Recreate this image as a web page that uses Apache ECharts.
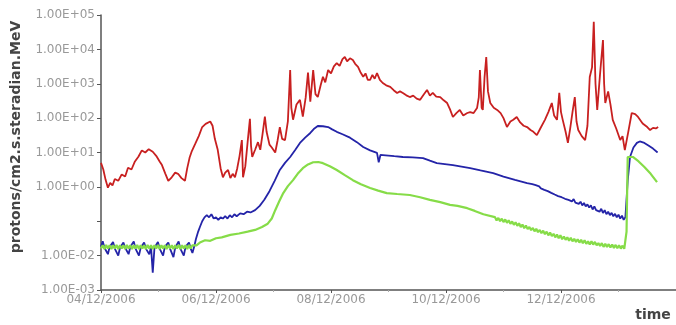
<!DOCTYPE html>
<html>
<head>
<meta charset="utf-8">
<title>Proton flux</title>
<script src="https://cdn.jsdelivr.net/npm/echarts@6/dist/echarts.min.js"></script>
<style>
  html, body { margin: 0; padding: 0; background: #fff; }
  #chart { width: 676px; height: 325px; }
</style>
</head>
<body>
<div id="chart"></div>
<script>
// [day of December 2006, flux]
const redPoints = [
  [4.00, 5.0], [4.04, 3.2], [4.08, 1.6], [4.12, 0.95], [4.16, 1.3], [4.20, 1.1], [4.24, 1.7],
  [4.30, 1.5], [4.36, 2.3], [4.42, 2.0], [4.47, 3.6], [4.53, 3.2], [4.59, 5.5], [4.65, 7.5],
  [4.71, 11.5], [4.77, 10.0], [4.83, 12.5], [4.90, 10.5], [4.96, 8.0], [5.02, 5.5], [5.06, 4.3],
  [5.12, 2.4], [5.17, 1.5], [5.23, 1.9], [5.29, 2.6], [5.34, 2.4], [5.40, 1.8], [5.46, 1.5],
  [5.50, 3.5], [5.54, 7.0], [5.58, 11], [5.64, 18], [5.70, 30], [5.76, 55], [5.82, 68],
  [5.90, 80], [5.94, 60], [5.98, 25], [6.03, 12], [6.08, 3.5], [6.12, 1.9], [6.16, 2.6],
  [6.21, 3.1], [6.25, 1.8], [6.29, 2.4], [6.33, 1.9], [6.37, 3.5], [6.41, 8], [6.45, 23],
  [6.47, 1.9], [6.51, 4], [6.55, 20], [6.59, 95], [6.61, 15], [6.63, 7.5], [6.68, 12],
  [6.73, 20], [6.77, 12], [6.81, 35], [6.85, 110], [6.88, 40], [6.93, 17], [6.97, 14],
  [7.03, 10], [7.07, 22], [7.11, 55], [7.15, 25], [7.20, 23], [7.25, 80], [7.29, 2500],
  [7.31, 200], [7.34, 90], [7.40, 250], [7.46, 340], [7.51, 110], [7.56, 400], [7.60, 2100],
  [7.64, 300], [7.67, 280], [7.69, 2500], [7.73, 500], [7.77, 410], [7.82, 900], [7.86, 1600],
  [7.90, 1100], [7.95, 2500], [8.00, 2000], [8.05, 3200], [8.10, 4000], [8.15, 3300],
  [8.20, 5200], [8.24, 6000], [8.28, 4500], [8.33, 5500], [8.38, 4900], [8.42, 3800],
  [8.47, 3100], [8.51, 2200], [8.56, 1600], [8.60, 2000], [8.64, 1300], [8.68, 1300],
  [8.72, 1800], [8.76, 1400], [8.80, 2050], [8.85, 1300], [8.90, 1050], [8.96, 900],
  [9.03, 810], [9.09, 650], [9.15, 540], [9.20, 600], [9.25, 540], [9.31, 460], [9.37, 410],
  [9.43, 450], [9.49, 370], [9.55, 340], [9.61, 480], [9.67, 660], [9.72, 450], [9.77, 540],
  [9.83, 420], [9.90, 410], [9.96, 330], [10.02, 275], [10.07, 180], [10.12, 108],
  [10.18, 140], [10.24, 173], [10.30, 120], [10.37, 141], [10.42, 150], [10.48, 140],
  [10.54, 196], [10.57, 400], [10.59, 2500], [10.62, 200], [10.64, 173], [10.67, 1500],
  [10.70, 6000], [10.73, 600], [10.77, 275], [10.83, 200], [10.89, 173], [10.95, 140],
  [11.00, 100], [11.06, 55], [11.12, 80], [11.17, 90], [11.23, 108], [11.29, 75], [11.35, 60],
  [11.41, 55], [11.47, 45], [11.52, 40], [11.58, 32], [11.64, 50], [11.72, 89], [11.78, 150],
  [11.84, 275], [11.88, 120], [11.93, 89], [11.97, 540], [12.00, 150], [12.03, 89],
  [12.08, 40], [12.12, 19], [12.16, 50], [12.20, 150], [12.24, 410], [12.27, 80], [12.30, 45],
  [12.36, 30], [12.42, 23], [12.46, 60], [12.50, 1580], [12.54, 3000], [12.57, 63000],
  [12.60, 1000], [12.63, 173], [12.68, 2000], [12.73, 18700], [12.75, 1000], [12.77, 275],
  [12.82, 600], [12.86, 250], [12.90, 89], [12.96, 50], [13.03, 23], [13.07, 30], [13.11, 11.7],
  [13.17, 40], [13.23, 141], [13.29, 130], [13.34, 108], [13.42, 70], [13.50, 55], [13.55, 45],
  [13.60, 52], [13.65, 50], [13.69, 55]
];

const bluePoints = [
  [4.00, 0.018], [4.03, 0.026], [4.06, 0.017], [4.09, 0.016], [4.12, 0.011], [4.15, 0.018],
  [4.18, 0.017], [4.21, 0.025], [4.24, 0.016], [4.27, 0.018], [4.30, 0.010], [4.33, 0.017],
  [4.36, 0.018], [4.39, 0.024], [4.42, 0.017], [4.45, 0.016], [4.48, 0.011], [4.51, 0.018],
  [4.54, 0.017], [4.57, 0.026], [4.60, 0.016], [4.63, 0.018], [4.66, 0.010], [4.69, 0.017],
  [4.72, 0.018], [4.75, 0.024], [4.78, 0.016], [4.81, 0.017], [4.84, 0.011], [4.87, 0.018],
  [4.90, 0.0032], [4.93, 0.017], [4.96, 0.018], [4.99, 0.025], [5.02, 0.016], [5.05, 0.017],
  [5.08, 0.010], [5.11, 0.018], [5.14, 0.017], [5.17, 0.024], [5.20, 0.016], [5.23, 0.018],
  [5.26, 0.009], [5.29, 0.017], [5.32, 0.018], [5.35, 0.026], [5.38, 0.016], [5.41, 0.017],
  [5.44, 0.010], [5.47, 0.018], [5.50, 0.017], [5.53, 0.024], [5.56, 0.016], [5.59, 0.012],
  [5.62, 0.018], [5.65, 0.030], [5.69, 0.050], [5.72, 0.068], [5.76, 0.10], [5.80, 0.13],
  [5.84, 0.15], [5.88, 0.13], [5.92, 0.16], [5.96, 0.12], [6.00, 0.13], [6.04, 0.11],
  [6.08, 0.13], [6.12, 0.12], [6.16, 0.14], [6.20, 0.12], [6.24, 0.15], [6.28, 0.13],
  [6.32, 0.16], [6.36, 0.14], [6.42, 0.17], [6.48, 0.16], [6.54, 0.19], [6.60, 0.18],
  [6.68, 0.21], [6.76, 0.28], [6.84, 0.42], [6.93, 0.75], [7.02, 1.5], [7.11, 3.1],
  [7.20, 5.0], [7.29, 7.4], [7.38, 12], [7.46, 19], [7.55, 27], [7.64, 37], [7.70, 48],
  [7.77, 59], [7.86, 58], [7.95, 55], [8.02, 47], [8.10, 40], [8.20, 34], [8.33, 27],
  [8.45, 20], [8.56, 14.5], [8.68, 11.5], [8.80, 9.7], [8.83, 5.2], [8.86, 8.5], [8.95, 8.3],
  [9.10, 7.8], [9.25, 7.4], [9.42, 7.2], [9.60, 6.9], [9.72, 5.8], [9.84, 4.9], [9.98, 4.6],
  [10.12, 4.3], [10.27, 3.9], [10.42, 3.5], [10.60, 3.0], [10.82, 2.5], [11.00, 2.0],
  [11.20, 1.6], [11.41, 1.28],
  [11.50, 1.20], [11.53, 1.08], [11.56, 1.12], [11.59, 0.98], [11.62, 1.03], [11.65, 0.90],
  [11.68, 0.93], [11.71, 0.82], [11.74, 0.86], [11.77, 0.75], [11.80, 0.78], [11.83, 0.67],
  [11.86, 0.71], [11.89, 0.60], [11.92, 0.64], [11.95, 0.54], [11.98, 0.60], [12.01, 0.50],
  [12.04, 0.54], [12.07, 0.45], [12.10, 0.51], [12.13, 0.42], [12.16, 0.47], [12.19, 0.38],
  [12.22, 0.44], [12.25, 0.35], [12.28, 0.40], [12.31, 0.32], [12.34, 0.37], [12.37, 0.29],
  [12.40, 0.34], [12.43, 0.27], [12.46, 0.31], [12.49, 0.25], [12.52, 0.29], [12.55, 0.22],
  [12.58, 0.27], [12.61, 0.21], [12.64, 0.24], [12.67, 0.19], [12.70, 0.23], [12.73, 0.175],
  [12.76, 0.21], [12.79, 0.16], [12.82, 0.19], [12.85, 0.15], [12.88, 0.175], [12.91, 0.14],
  [12.94, 0.165], [12.97, 0.13], [13.00, 0.155], [13.03, 0.12], [13.06, 0.145], [13.09, 0.11],
  [13.12, 0.13], [13.16, 1.5], [13.20, 7.4], [13.26, 14], [13.32, 19],
  [13.37, 21], [13.45, 19], [13.52, 16], [13.60, 13], [13.68, 10]
];

const greenPoints = [
  [4.00, 0.016], [4.03, 0.020], [4.06, 0.0155], [4.09, 0.0205], [4.12, 0.016], [4.15, 0.020],
  [4.18, 0.0155], [4.21, 0.020], [4.24, 0.016], [4.27, 0.0205], [4.30, 0.0155], [4.33, 0.020],
  [4.36, 0.016], [4.39, 0.020], [4.42, 0.0155], [4.45, 0.0205], [4.48, 0.016], [4.51, 0.020],
  [4.54, 0.0155], [4.57, 0.020], [4.60, 0.016], [4.63, 0.0205], [4.66, 0.0155], [4.69, 0.020],
  [4.72, 0.016], [4.75, 0.020], [4.78, 0.0155], [4.81, 0.0205], [4.84, 0.016], [4.87, 0.020],
  [4.90, 0.0155], [4.93, 0.020], [4.96, 0.016], [4.99, 0.0205], [5.02, 0.0155], [5.05, 0.020],
  [5.08, 0.016], [5.11, 0.020], [5.14, 0.0155], [5.17, 0.0205], [5.20, 0.016], [5.23, 0.020],
  [5.26, 0.0155], [5.29, 0.020], [5.32, 0.016], [5.35, 0.0205], [5.38, 0.0155], [5.41, 0.020],
  [5.44, 0.016], [5.47, 0.020], [5.50, 0.0155], [5.53, 0.0205], [5.56, 0.016], [5.59, 0.020],
  [5.62, 0.018], [5.66, 0.020], [5.72, 0.024], [5.81, 0.028], [5.90, 0.027], [6.00, 0.032],
  [6.10, 0.034], [6.25, 0.040], [6.40, 0.044], [6.55, 0.050], [6.68, 0.056], [6.80, 0.068],
  [6.90, 0.085], [6.97, 0.12], [7.03, 0.21], [7.10, 0.38], [7.17, 0.66], [7.25, 1.05],
  [7.34, 1.57], [7.42, 2.4], [7.51, 3.5], [7.60, 4.5], [7.69, 5.2], [7.78, 5.3], [7.86, 4.9],
  [7.98, 4.0], [8.10, 3.1], [8.24, 2.2], [8.38, 1.57], [8.52, 1.2], [8.68, 0.93], [8.82, 0.78],
  [8.97, 0.66], [9.15, 0.62], [9.37, 0.58], [9.55, 0.50], [9.72, 0.42], [9.90, 0.36],
  [10.07, 0.30], [10.20, 0.28], [10.37, 0.24], [10.50, 0.20], [10.65, 0.16],
  [10.85, 0.132], [10.88, 0.106], [10.91, 0.125], [10.94, 0.101], [10.97, 0.119], [11.00, 0.095],
  [11.03, 0.113], [11.06, 0.090], [11.09, 0.107], [11.12, 0.084], [11.15, 0.099], [11.18, 0.079],
  [11.21, 0.093], [11.24, 0.074], [11.27, 0.087], [11.30, 0.068], [11.33, 0.080], [11.36, 0.063],
  [11.39, 0.075], [11.42, 0.059], [11.45, 0.068], [11.48, 0.055], [11.51, 0.064], [11.54, 0.051],
  [11.57, 0.060], [11.60, 0.048], [11.63, 0.056], [11.66, 0.045], [11.69, 0.053], [11.72, 0.042],
  [11.75, 0.050], [11.78, 0.039], [11.81, 0.047], [11.84, 0.037], [11.87, 0.043], [11.90, 0.034],
  [11.93, 0.041], [11.96, 0.032], [11.99, 0.039], [12.02, 0.030], [12.05, 0.036], [12.08, 0.029],
  [12.11, 0.034], [12.14, 0.027], [12.17, 0.033], [12.20, 0.026], [12.23, 0.031], [12.26, 0.025],
  [12.29, 0.030], [12.32, 0.024], [12.35, 0.029], [12.38, 0.023], [12.41, 0.028], [12.44, 0.022],
  [12.47, 0.026], [12.50, 0.021], [12.53, 0.026], [12.56, 0.021], [12.59, 0.025], [12.62, 0.020],
  [12.65, 0.023], [12.68, 0.019], [12.71, 0.023], [12.74, 0.018], [12.77, 0.022], [12.80, 0.0178],
  [12.83, 0.0215], [12.86, 0.0172], [12.89, 0.021], [12.92, 0.0168], [12.95, 0.0205], [12.98, 0.0165],
  [13.01, 0.020], [13.04, 0.016], [13.07, 0.0195], [13.10, 0.0158], [13.12, 0.018],
  [13.14, 0.05], [13.16, 7.4], [13.25, 7.4], [13.35, 5.5], [13.45, 3.8], [13.56, 2.4], [13.67, 1.37]
];

// 1.00E-01 has no label in the original
const hiddenExponents = [-1];

function expLabel(value) {
  const e = Math.round(Math.log10(value));
  if (hiddenExponents.includes(e)) return "";
  const sign = e < 0 ? "-" : "+";
  return "1.00E" + sign + String(Math.abs(e)).padStart(2, "0");
}

function dateLabel(value) {
  return String(Math.round(value)).padStart(2, "0") + "/12/2006";
}

const chart = echarts.init(document.getElementById("chart"));

const lineSeries = (data, color, width) => ({
  type: "line",
  data: data,
  showSymbol: false,
  symbol: "none",
  lineStyle: { color: color, width: width },
  itemStyle: { color: color },
});

chart.setOption({
  animation: false,
  backgroundColor: "#fff",
  grid: { left: 101, right: 0, top: 15, bottom: 35 },
  xAxis: {
    type: "value",
    min: 4,
    max: 14,
    interval: 2,
    axisLine: { show: true, lineStyle: { color: "#555", width: 1.5 } },
    axisTick: { show: true, length: 3, lineStyle: { color: "#555" } },
    minorTick: { show: true, splitNumber: 2, length: 2, lineStyle: { color: "#aaa" } },
    splitLine: { show: false },
    axisLabel: {
      margin: 4,
      color: "#999",
      fontFamily: "DejaVu Sans",
      fontSize: 12,
      showMaxLabel: false,
      formatter: dateLabel,
    },
  },
  yAxis: {
    type: "log",
    logBase: 10,
    min: 0.001,
    max: 100000,
    axisLine: { show: true, lineStyle: { color: "#555", width: 1.5 } },
    axisTick: { show: true, length: 4, lineStyle: { color: "#555" } },
    splitLine: { show: false },
    axisLabel: {
      margin: 6,
      color: "#999",
      fontFamily: "DejaVu Sans",
      fontSize: 12,
      formatter: expLabel,
    },
  },
  graphic: [
    {
      type: "text",
      x: 16,
      y: 137,
      rotation: Math.PI / 2,
      style: {
        text: "protons/cm2.s.steradian.MeV",
        fill: "#444",
        font: "bold 14px 'DejaVu Sans'",
        textAlign: "center",
        textVerticalAlign: "middle",
      },
    },
    {
      type: "text",
      x: 653,
      y: 315,
      style: {
        text: "time",
        fill: "#444",
        font: "bold 14px 'DejaVu Sans'",
        textAlign: "center",
        textVerticalAlign: "middle",
      },
    },
  ],
  series: [
    lineSeries(redPoints, "#c82020", 1.8),
    lineSeries(bluePoints, "#2424a8", 1.8),
    lineSeries(greenPoints, "#86dc48", 2.2),
  ],
});
</script>
</body>
</html>
